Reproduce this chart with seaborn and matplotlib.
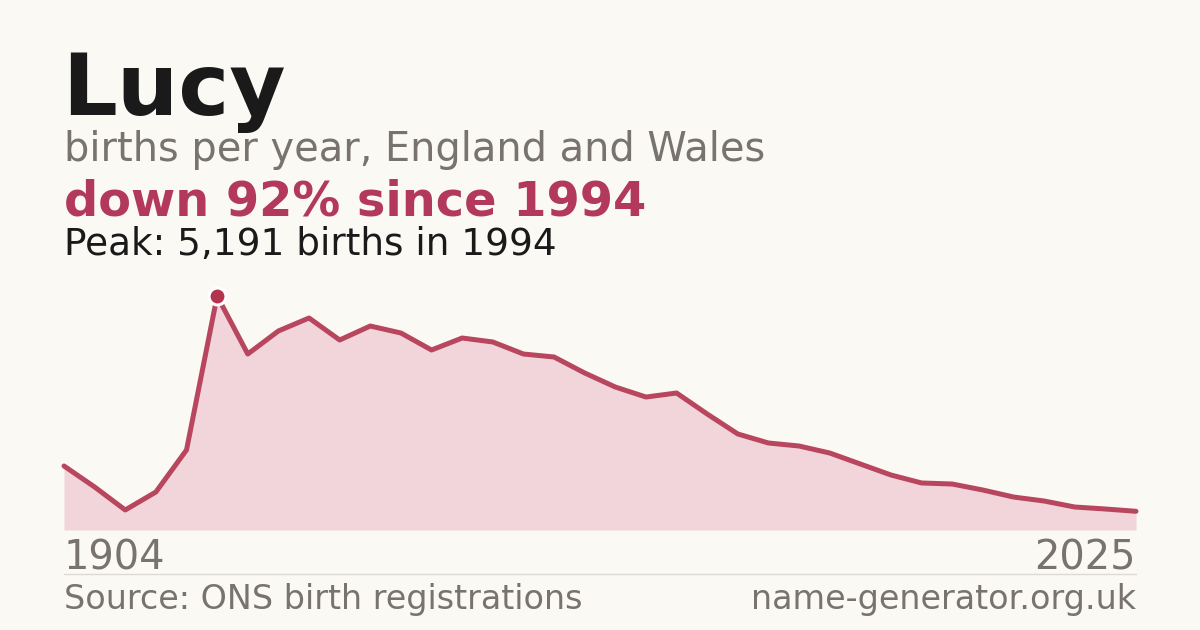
import numpy as np
import pandas as pd
import matplotlib
matplotlib.use("Agg")
import matplotlib.pyplot as plt
import seaborn as sns

sns.set_style("white")
plt.rcParams["font.family"] = ["DejaVu Sans"]

# births per point (evenly spaced points)
births = [
    1420, 954, 444, 843, 1775, 5191, 3904, 4415, 4703, 4215,
    4525, 4370, 3993, 4259, 4171, 3904, 3838, 3483, 3172, 2950,
    3039, 2573, 2130, 1930, 1863, 1708, 1464, 1220, 1043, 1020,
    887, 732, 643, 510, 466, 415,
]
first_year = "1904"
last_year = "2025"
peak_index = 5

name = "Lucy"
subtitle = "births per year, England and Wales"
headline = "down 92% since 1994"
peak_text = "Peak: 5,191 births in 1994"
source = "Source: ONS birth registrations"
site = "name-generator.org.uk"

bg = "#FAF9F4"
red = "#B3395A"
line_red = "#B8465F"
fill = "#F1D5DA"
grey = "#78736C"
dark = "#1A1A1A"

df = pd.DataFrame({"pos": np.arange(len(births)), "births": births})

W, H = 1200, 630
fig = plt.figure(figsize=(12, 6.3), dpi=100, facecolor=bg)
ax = fig.add_axes([64 / W, 1 - 530 / H, 1072 / W, 234 / H])
ax.set_facecolor(bg)

ax.fill_between(df["pos"], df["births"], 0, color=fill, lw=0)
sns.lineplot(data=df, x="pos", y="births", ax=ax, color=line_red, lw=3.6,
             clip_on=False)
# peak dot with a white halo
ax.plot(df["pos"][peak_index], df["births"][peak_index], "o", ms=12.2,
        color="#B3344F", mec="white", mew=2.2, clip_on=False, zorder=5)

ax.set_xlim(0, len(births) - 1)
ax.set_ylim(0, max(births))
ax.axis("off")


def px_text(x, y, s, **kw):
    fig.text(x / W, 1 - y / H, s, va="baseline", **kw)


px_text(62, 115, name, fontsize=62, fontweight="bold", color=dark)
px_text(64, 161, subtitle, fontsize=28.7, color=grey)
px_text(64, 216, headline, fontsize=34.5, fontweight="bold", color=red)
px_text(64, 255, peak_text, fontsize=26.9, color=dark)
px_text(64, 570, first_year, fontsize=28.7, color=grey)
px_text(1136, 570, last_year, fontsize=28.7, color=grey, ha="right")
px_text(64, 609, source, fontsize=24, color=grey)
px_text(1136, 609, site, fontsize=24, color=grey, ha="right")

fig.add_artist(plt.Line2D([64 / W, 1136 / W], [1 - 574 / H, 1 - 574 / H],
                          color="#DDDAD2", lw=1))

fig.savefig("out.png", dpi=100, facecolor=bg)
